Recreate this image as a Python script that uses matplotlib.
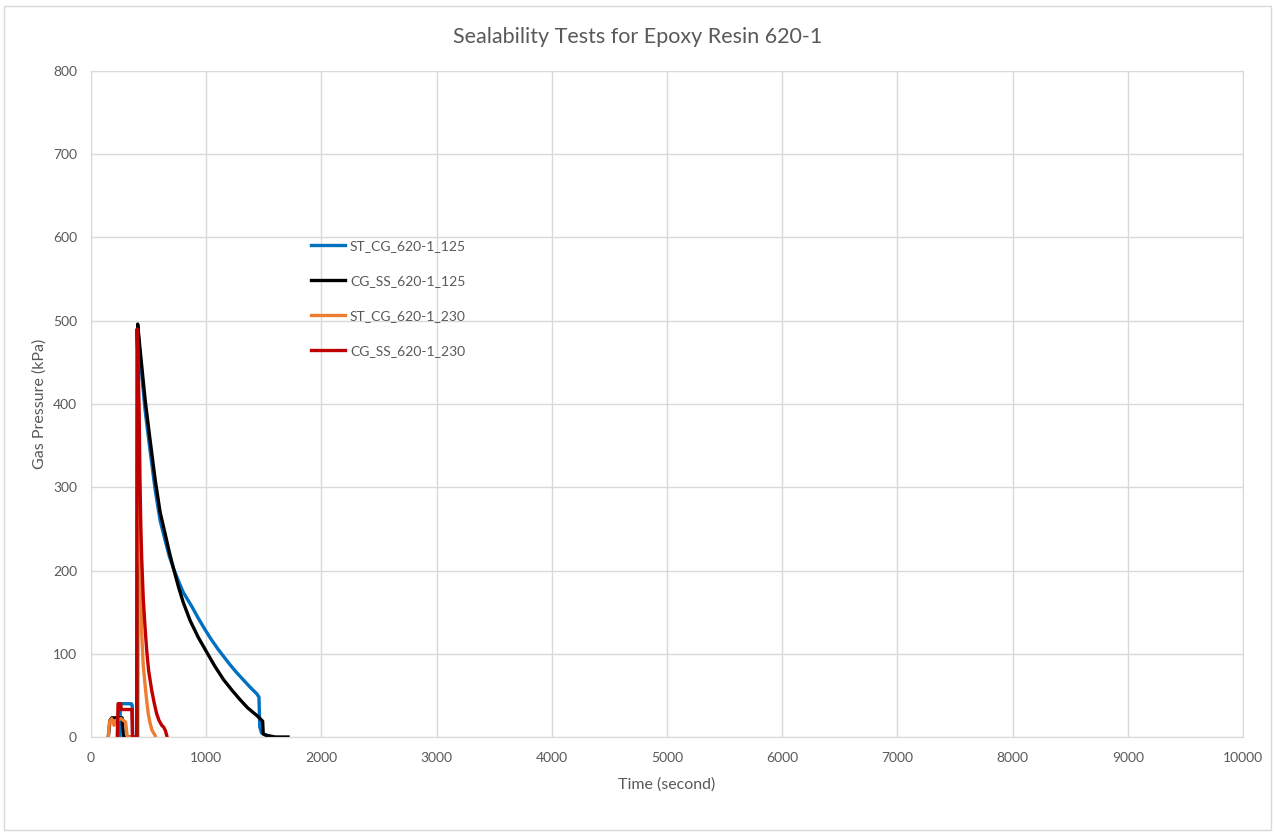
import matplotlib
matplotlib.use("Agg")
import matplotlib.pyplot as plt
from matplotlib.patches import Rectangle

plt.rcParams['font.family'] = ['Lato', 'DejaVu Sans']

# ST_CG_620-1_125 (blue)
blue_t = [250, 255, 350, 358, 362, 404, 407, 430, 470, 510, 556, 600, 642, 680, 715,
          760, 800, 874, 930, 990, 1040, 1100, 1150, 1200, 1260, 1320, 1380, 1438,
          1458, 1465, 1480, 1500, 1530, 1570]
blue_p = [0, 40, 40, 38, 0, 0, 490, 450, 392, 347, 298, 260, 237, 217, 203,
          187, 174, 157, 143, 129, 118, 106, 97, 88, 78, 69, 60, 52,
          48, 12, 5, 3, 2, 0]

# CG_SS_620-1_125 (black)
black_t = [150, 165, 180, 270, 282, 403, 405, 430, 470, 510, 556, 600, 642, 680, 715,
           760, 800, 860, 930, 1000, 1075, 1150, 1225, 1293, 1360, 1438, 1490, 1495,
           1520, 1600, 1710]
black_p = [0, 20, 23, 23, 0, 0, 496, 460, 405, 360, 310, 270, 245, 222, 203,
           180, 162, 140, 120, 103, 85, 69, 56, 45, 35, 26, 19, 4,
           2, 0, 0]

# ST_CG_620-1_230 (orange)
orange_t = [150, 160, 180, 200, 215, 260, 300, 315, 398, 402, 410, 418, 425, 440, 454,
            470, 483, 497, 512, 530, 556, 560]
orange_p = [0, 18, 22, 14, 20, 22, 18, 0, 0, 485, 420, 330, 250, 125, 85,
            62, 44, 28, 17, 8, 2, 0]

# CG_SS_620-1_230 (red)
red_t = [228, 235, 258, 262, 355, 360, 396, 400, 410, 418, 425, 433, 440, 454, 470,
         483, 500, 527, 550, 570, 590, 614, 630, 645, 657, 660]
red_p = [0, 40, 40, 33, 33, 0, 0, 490, 440, 390, 310, 250, 215, 165, 130,
         105, 80, 56, 40, 28, 20, 14, 12, 8, 2, 0]

labels = ['ST_CG_620-1_125', 'CG_SS_620-1_125', 'ST_CG_620-1_230', 'CG_SS_620-1_230']
colors = ['#0070C0', '#000000', '#ED7D31', '#C00000']

fig = plt.figure(figsize=(12.76, 8.34), dpi=100)
ax = fig.add_axes([91 / 1276, 1 - 737 / 834, (1243 - 91) / 1276, (737 - 71) / 834])

# outer chart border
fig.patches.append(Rectangle((4 / 1276, 4 / 834), 1267 / 1276, 824 / 834,
                             transform=fig.transFigure, fill=False,
                             edgecolor='#d9d9d9', linewidth=1))

series = [(blue_t, blue_p), (black_t, black_p), (orange_t, orange_p), (red_t, red_p)]
for (t, p), lab, c in zip(series, labels, colors):
    ax.plot(t, p, color=c, linewidth=2.4, label=lab, solid_joinstyle='round')

ax.set_xlim(0, 10000)
ax.set_ylim(0, 800)
ax.set_xticks(range(0, 10001, 1000))
ax.set_yticks(range(0, 801, 100))
ax.grid(True, color='#d9d9d9', linewidth=1)
ax.set_axisbelow(True)
for s in ax.spines.values():
    s.set_color('#d9d9d9')
ax.tick_params(length=0, labelsize=10, labelcolor='#595959')
ax.tick_params(axis='x', pad=10.5)
ax.tick_params(axis='y', pad=10)

fig.text(0.5, 1 - 37 / 834, 'Sealability Tests for Epoxy Resin 620-1', fontsize=15.5,
         color='#595959', ha='center', va='center')
ax.set_xlabel('Time (second)', fontsize=11.5, color='#595959', labelpad=10)
ax.set_ylabel('Gas Pressure (kPa)', fontsize=11.5, color='#595959', labelpad=4.5)

ax.legend(loc='upper left', bbox_to_anchor=(311 / 1276, 1 - 240 / 834),
          bbox_transform=fig.transFigure, frameon=False, fontsize=10,
          labelcolor='#595959', handlelength=2.45, handletextpad=0.35,
          labelspacing=1.65, borderpad=0, borderaxespad=0)

fig.savefig('out.png', dpi=100)
